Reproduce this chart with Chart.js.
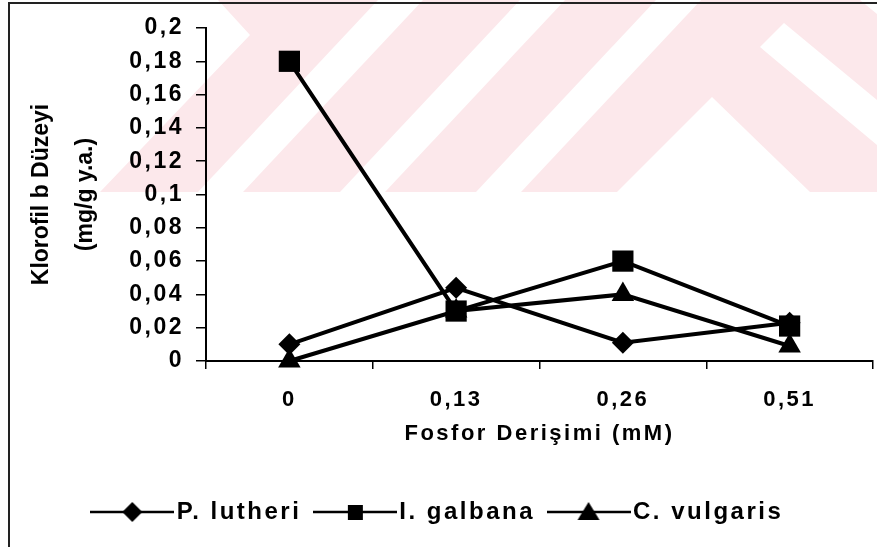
<!DOCTYPE html>
<html>
<head>
<meta charset="utf-8">
<script src="https://cdn.jsdelivr.net/npm/chart.js@4.4.0/dist/chart.umd.min.js"></script>
<style>
  html, body { margin: 0; padding: 0; background: #fff; }
  #wrap { position: relative; width: 877px; height: 547px; overflow: hidden; }
  #wm, #frame, canvas { position: absolute; left: 0; top: 0; }
  #frame { left: 8px; top: 2px; width: 869px; height: 545px;
    border-left: 2px solid #222; border-top: 2px solid #222; box-sizing: border-box; }
</style>
</head>
<body>
<div id="wrap">
  <!-- faint watermark of the scanned page -->
  <svg id="wm" width="877" height="547">
    <polygon fill="#fce8eb" points="100,192 250,35 218,0 877,0 877,192"/>
    <g fill="#fff">
      <polygon points="198,192 243,192 423,0 378,0"/>
      <polygon points="340,192 385,192 565,0 520,0"/>
      <polygon points="476,192 521,192 701,0 656,0"/>
      <polygon points="617,192 712,97 810,192"/>
      <polygon points="760,47 784,23 877,100 877,145"/>
      <polygon points="860,0 877,0 877,14"/>
    </g>
  </svg>
  <div id="frame"></div>
  <canvas id="chart" width="877" height="547"></canvas>
</div>
<script>
const categories = ['0', '0,13', '0,26', '0,51'];
const pLutheri = [0.010, 0.044, 0.011, 0.023];
const iGalbana = [0.180, 0.030, 0.060, 0.021];
const cVulgaris = [0.000, 0.030, 0.040, 0.009];
const yTitle = ['Klorofil b Düzeyi', '(mg/g y.a.)'];
const xTitle = 'Fosfor Derişimi (mM)';

const FONT = 'Liberation Sans, Arial, sans-serif';

// legend icon: line with the marker in the middle
function legendIcon(style) {
  const c = document.createElement('canvas');
  c.width = 84; c.height = 26;
  const g = c.getContext('2d');
  g.strokeStyle = '#000'; g.fillStyle = '#000'; g.lineWidth = 2.5;
  g.beginPath(); g.moveTo(0, 13); g.lineTo(84, 13); g.stroke();
  g.beginPath();
  if (style === 'rectRot') {
    g.moveTo(42, 3); g.lineTo(52, 13); g.lineTo(42, 23); g.lineTo(32, 13);
  } else if (style === 'rect') {
    g.rect(35, 6, 15, 15);
  } else {
    g.moveTo(42, 3); g.lineTo(53, 21); g.lineTo(31, 21);
  }
  g.closePath(); g.fill();
  return c;
}

// the scanned text is widely spaced
const spacing = {
  id: 'spacing',
  beforeUpdate: c => { c.ctx.letterSpacing = '2.5px'; },
  beforeDraw: c => { c.ctx.letterSpacing = '2.5px'; }
};

// y title is set tight, without the extra spacing
function tightTitle(s) {
  if (s._tight) return;
  s._tight = true;
  const orig = s.drawTitle;
  s.drawTitle = function () {
    const prev = this.ctx.letterSpacing;
    this.ctx.letterSpacing = '0px';
    orig.call(this);
    this.ctx.letterSpacing = prev;
  };
}

const series = [
  { label: 'P. lutheri', data: pLutheri, pointStyle: 'rectRot', pointRadius: 11 },
  { label: 'I. galbana', data: iGalbana, pointStyle: 'rect', pointRadius: 15 },
  { label: 'C. vulgaris', data: cVulgaris, pointStyle: 'triangle', pointRadius: 13 }
];

new Chart(document.getElementById('chart'), {
  type: 'line',
  plugins: [spacing],
  data: {
    labels: categories,
    datasets: series.map(s => ({
      label: s.label,
      data: s.data,
      borderColor: '#000',
      backgroundColor: '#000',
      pointBackgroundColor: '#000',
      pointBorderColor: '#000',
      pointBorderWidth: 0,
      pointStyle: s.pointStyle,
      pointRadius: s.pointRadius,
      borderWidth: 4,
      tension: 0,
      clip: false
    }))
  },
  options: {
    responsive: false,
    animation: false,
    layout: { autoPadding: false, padding: { left: 10, right: 4, top: 28, bottom: 13 } },
    plugins: {
      tooltip: { enabled: false },
      legend: {
        position: 'bottom',
        labels: {
          color: '#000',
          font: { family: FONT, size: 24, weight: 'bold' },
          usePointStyle: true,
          pointStyleWidth: 65,
          padding: 21,
          generateLabels: chart => chart.data.datasets.map((ds, i) => ({
            text: ds.label,
            pointStyle: legendIcon(ds.pointStyle),
            fillStyle: '#000',
            strokeStyle: '#000',
            lineWidth: 0,
            datasetIndex: i,
            hidden: false
          }))
        }
      }
    },
    scales: {
      x: {
        offset: true,
        afterFit: s => { s.height = 118; s.paddingLeft = 0; s.paddingRight = 0; },
        border: { color: '#000', width: 2 },
        grid: { offset: true, drawOnChartArea: false, drawTicks: true, tickLength: 8, color: '#000', lineWidth: 1.5 },
        ticks: { color: '#000', font: { family: FONT, size: 22, weight: 'bold' }, padding: 18 },
        title: { display: true, text: xTitle, color: '#000', font: { family: FONT, size: 22, weight: 'bold' }, padding: { top: 0, bottom: 32 } }
      },
      y: {
        min: 0, max: 0.2,
        afterFit: s => { s.width = 196; tightTitle(s); },
        border: { color: '#000', width: 2 },
        grid: { drawOnChartArea: false, drawTicks: true, tickLength: 10, color: '#000', lineWidth: 1.5 },
        ticks: {
          stepSize: 0.02,
          color: '#000',
          font: { family: FONT, size: 23, weight: 'bold' },
          padding: 12,
          callback: v => String(Math.round(v * 100) / 100).replace('.', ',')
        },
        title: { display: true, text: yTitle, color: '#000', font: { family: FONT, size: 23, weight: 'bold', lineHeight: 1.9 }, padding: { top: 10, bottom: 0 } }
      }
    }
  }
});
</script>
</body>
</html>
